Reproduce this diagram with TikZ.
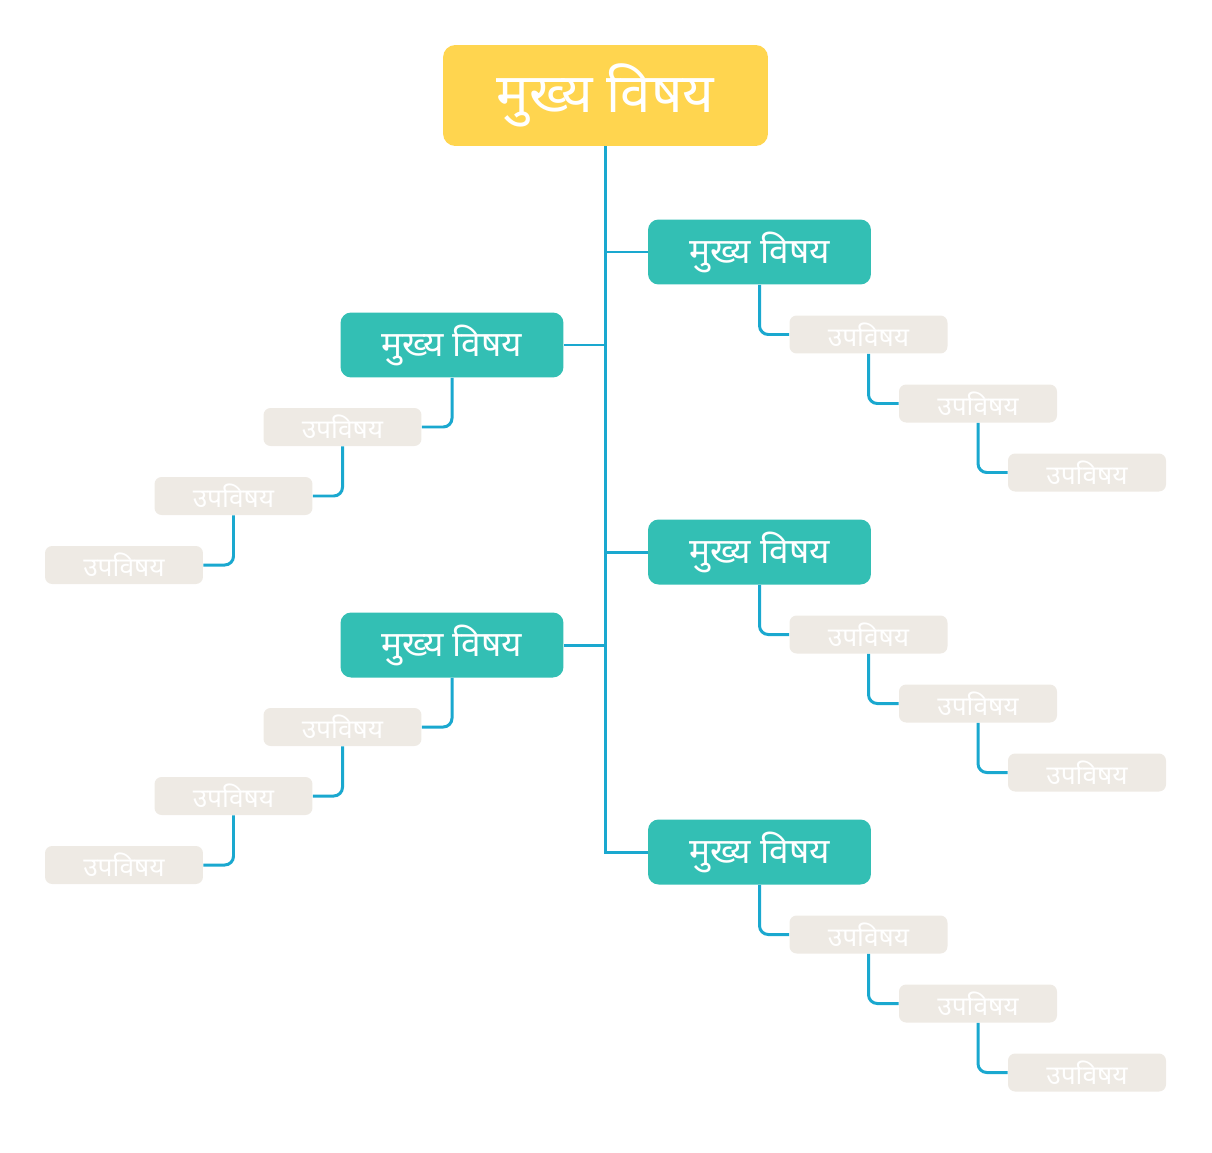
\documentclass[tikz,border=0pt]{standalone}
\usepackage{fontspec}
\newfontfamily\devfont[Script=Devanagari]{Noto Sans}
\usepackage{xcolor}
\definecolor{topic-yellow}{HTML}{FFD54F}
\definecolor{topic-teal}{HTML}{33BFB4}
\definecolor{sub-grey}{HTML}{EEEAE4}
\definecolor{link-blue}{HTML}{1AA8CF}
\usetikzlibrary{calc}

\tikzset{
	rootbox/.style={rectangle,rounded corners=7pt,fill=topic-yellow,text=white,
		minimum width=6.5cm,minimum height=2.02cm,inner sep=0pt,
		font=\devfont\fontsize{31}{33}\selectfont},
	mainbox/.style={rectangle,rounded corners=6pt,fill=topic-teal,text=white,
		minimum width=4.46cm,minimum height=1.3cm,inner sep=0pt,
		font=\devfont\fontsize{20}{22}\selectfont},
	subbox/.style={rectangle,rounded corners=4pt,fill=sub-grey,text=white,
		minimum width=3.16cm,minimum height=0.76cm,inner sep=0pt,
		font=\devfont\fontsize{15}{17}\selectfont},
	link/.style={draw=link-blue,line width=1.7pt},
	sublink/.style={link,rounded corners=5pt}
}

\begin{document}
\begin{tikzpicture}[x=0.02cm,y=-0.02cm]
	\useasboundingbox (0,0) rectangle (1212,1152);
	
	\node[rootbox] (root) at (605.5,95.5) {मुख्य विषय};
	
	% right hand topics
	\foreach \n/\y in {ra/252,rb/552,rc/852}{
		\node[mainbox] (\n) at (759.5,\y) {मुख्य विषय};
		\node[subbox] (\n1) at (868.5,\y+82.5) {उपविषय};
		\node[subbox] (\n2) at (978,\y+151.5) {उपविषय};
		\node[subbox] (\n3) at (1087,\y+220.5) {उपविषय};
		\draw[sublink] (\n.south) |- (\n1.west);
		\draw[sublink] (\n1.south) |- (\n2.west);
		\draw[sublink] (\n2.south) |- (\n3.west);
	}
	
	% left hand topics
	\foreach \n/\y in {la/345,lb/645}{
		\node[mainbox] (\n) at (452,\y) {मुख्य विषय};
		\node[subbox] (\n1) at (342.5,\y+82) {उपविषय};
		\node[subbox] (\n2) at (233.5,\y+151) {उपविषय};
		\node[subbox] (\n3) at (124,\y+220) {उपविषय};
		\draw[sublink] (\n.south) |- (\n1.east);
		\draw[sublink] (\n1.south) |- (\n2.east);
		\draw[sublink] (\n2.south) |- (\n3.east);
	}
	
	% trunk
	\draw[link] (root.south) |- (rc.west);
	\draw[link] (ra.west) -- (ra.west -| root.south);
	\draw[link] (rb.west) -- (rb.west -| root.south);
	\draw[link] (la.east) -- (la.east -| root.south);
	\draw[link] (lb.east) -- (lb.east -| root.south);
\end{tikzpicture}
\end{document}
